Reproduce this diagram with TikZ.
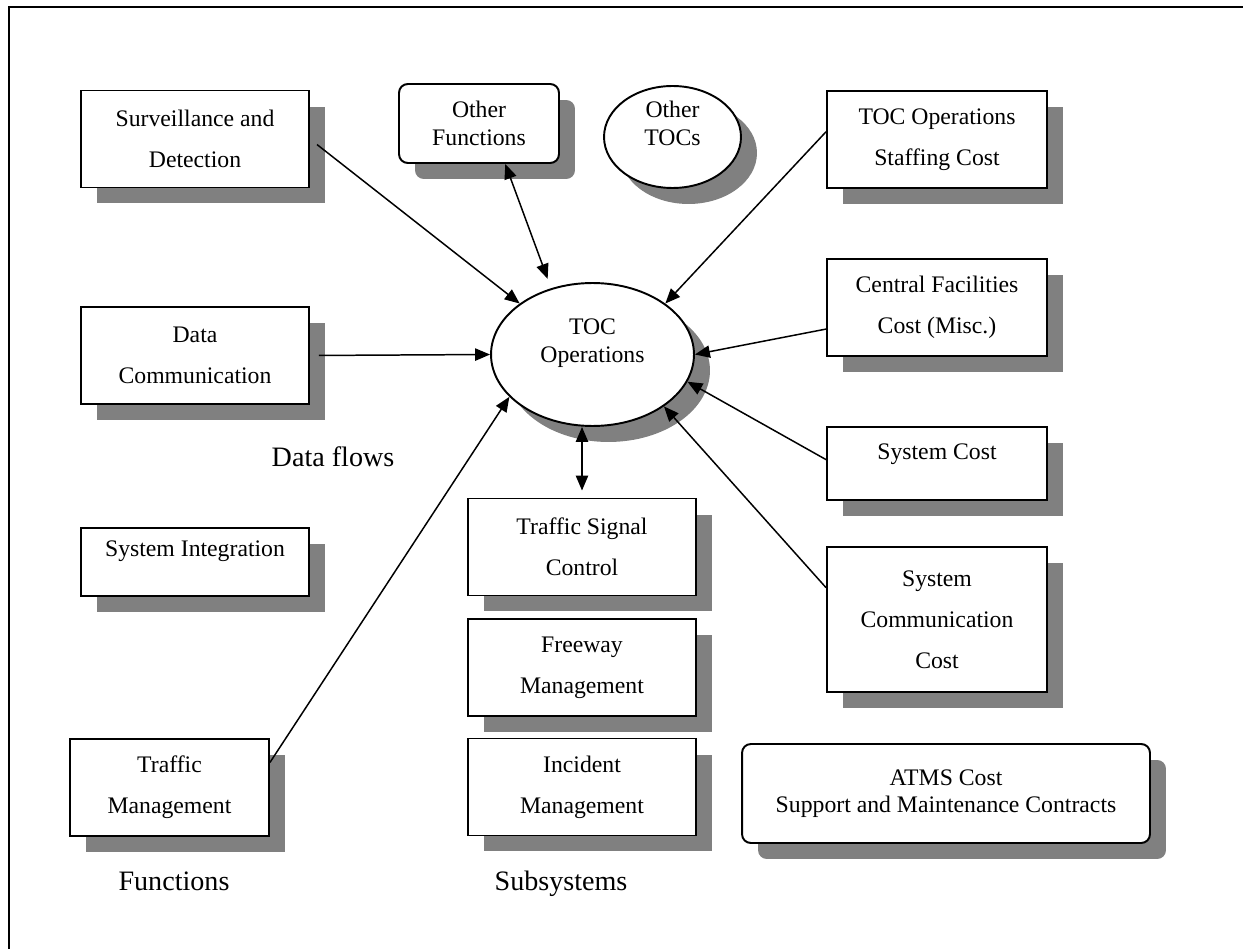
\documentclass[tikz,border=0pt]{standalone}
\usepackage{fontspec}
\setmainfont{Liberation Serif}
\usetikzlibrary{arrows.meta,shapes.geometric,shadows}
\definecolor{shade}{HTML}{808080}

\begin{document}
\begin{tikzpicture}[x=0.02cm,y=-0.02cm,>={Triangle[length=8.5pt,width=7pt]},
  box/.style={draw,line width=1.1pt,fill=white,inner sep=0pt,align=center,
    minimum width=4.56cm,minimum height=1.94cm,font=\fontsize{13.5}{23.2}\selectfont,
    drop shadow={shadow xshift=0.32cm,shadow yshift=-0.32cm,fill=shade,opacity=1}},
  rbox/.style={box,rounded corners=5pt,font=\fontsize{13.5}{15.6}\selectfont},
  oval/.style={box,ellipse,font=\fontsize{13.5}{15.6}\selectfont},
  flow/.style={->,line width=0.85pt},
  tag/.style={font=\fontsize{16}{19}\selectfont,anchor=base}]

\useasboundingbox (0,0) rectangle (1243,949);
\draw[line width=1.3pt] (9,949) -- (9,7) -- (1243,7);

% functions
\node[box] (surv) at (195,139) {Surveillance and\\Detection};
\node[box] (dcom) at (195,355.5) {Data\\Communication};
\node[box,minimum height=1.36cm,text height=9pt,text depth=14.7pt] (sint) at (195,562) {System Integration};
\node[box,minimum width=3.98cm] (tman) at (169.5,787.5) {Traffic\\Management};

\node[rbox,minimum width=3.2cm,minimum height=1.58cm] (ofun) at (479,123.5) {Other\\Functions};
\node[oval,minimum width=2.74cm,minimum height=2.04cm] (otoc) at (672.5,137) {Other\\TOCs\\\mbox{}};
\node[oval,minimum width=4.06cm,minimum height=2.86cm] (toc) at (592.5,354.5) {TOC\\Operations\\\mbox{}};

% subsystems
\node[box] (tsc) at (582,547) {Traffic Signal\\Control};
\node[box] (fwy) at (582,667.5) {Freeway\\Management};
\node[box] (inc) at (582,787) {Incident\\Management};

% costs
\node[box,minimum width=4.4cm] (stf) at (937,139.5) {TOC Operations\\Staffing Cost};
\node[box,minimum width=4.4cm] (cfac) at (937,307.5) {Central Facilities\\Cost (Misc.)};
\node[box,minimum width=4.4cm,minimum height=1.46cm,text height=9pt,text depth=13pt] (scost) at (937,463.5) {System Cost};
\node[box,minimum width=4.4cm,minimum height=2.9cm] (scom) at (937,619.5) {System\\Communication\\Cost};
\node[rbox,minimum width=8.16cm,minimum height=1.98cm] (atms) at (946,793.5) {ATMS Cost\\Support and Maintenance Contracts};

\node[tag] (flows) at (333,466) {Data flows};
\node[tag] (funcs) at (174,890) {Functions};
\node[tag] (subs) at (561,890) {Subsystems};

\path[flow] (surv.east) edge[shorten <=0.18cm] (toc.145)
  (dcom.east) edge[shorten <=0.18cm] (toc.west)
  (tman.14) edge (toc.207)
  (stf.176) edge (toc.35)
  (cfac.191) edge (toc.east)
  (scost.178) edge (toc.-16)
  (scom.164) edge (toc.-36);
\path[flow,<->] (ofun.-57) edge[shorten >=0.2cm] (toc.122)
  (tsc.north |- toc.south) edge[shorten >=0.14cm] (tsc.north);
\end{tikzpicture}
\end{document}
